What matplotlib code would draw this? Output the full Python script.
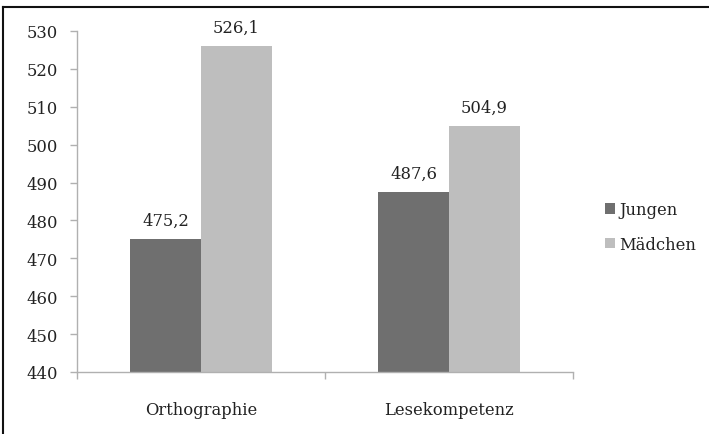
import matplotlib
matplotlib.use("Agg")
import matplotlib.pyplot as plt
from matplotlib.lines import Line2D
import numpy as np

categories = ["Orthographie", "Lesekompetenz"]
series_names = ["Jungen", "Mädchen"]
jungen = [475.2, 487.6]
maedchen = [526.1, 504.9]
colors = ["#6f6f6f", "#bebebe"]
y_ticks = [440, 450, 460, 470, 480, 490, 500, 510, 520, 530]

plt.rcParams["font.family"] = ["DejaVu Serif"]
FS = 11.8

W, H = 709, 435
fig = plt.figure(figsize=(W / 100, H / 100), dpi=100)
ax = fig.add_axes([77 / W, 1 - 373 / H, 496 / W, 341 / H])

x = np.arange(len(categories)) + 0.5
bw = 0.286
for i, (vals, name, c) in enumerate(zip([jungen, maedchen], series_names, colors)):
    pos = x + (i - 0.5) * bw
    ax.bar(pos, [v - 440 for v in vals], bottom=440, width=bw, color=c,
           label=name, linewidth=0)
    for p, v in zip(pos, vals):
        ax.annotate(f"{v:.1f}".replace(".", ","), (p, v), xytext=(0, 10),
                    textcoords="offset points", ha="center", va="baseline",
                    fontsize=FS, color="#222222")

ax.set_xlim(0, len(categories))
ax.set_ylim(440, 530)
ax.set_yticks(y_ticks)
ax.set_yticklabels([str(t) for t in y_ticks], fontsize=FS, color="#222222")
ax.set_xticks([0, 1, 2])
ax.set_xticklabels([])
ax.set_xticks(x, minor=True)
ax.set_xticklabels(categories, minor=True, fontsize=FS, color="#222222")
ax.tick_params(axis="x", which="minor", length=0, pad=21)
ax.tick_params(axis="x", which="major", length=5, color="#b0b0b0", width=1)
ax.tick_params(axis="y", length=5, color="#b0b0b0", width=1, pad=9)
for s in ["top", "right"]:
    ax.spines[s].set_visible(False)
for s in ["left", "bottom"]:
    ax.spines[s].set_color("#b0b0b0")
    ax.spines[s].set_linewidth(1)

leg = fig.legend(loc="center left", bbox_to_anchor=(590 / W, 1 - 228 / H),
                 frameon=False, fontsize=FS, handlelength=0.6, handleheight=0.6,
                 handletextpad=0.3, labelspacing=1.05)
for t in leg.get_texts():
    t.set_color("#222222")

fig.add_artist(Line2D([3 / W, 3 / W], [0, 1 - 8 / H], transform=fig.transFigure,
                      color="#111111", linewidth=1.5))
fig.add_artist(Line2D([3 / W, 1], [1 - 8 / H, 1 - 8 / H], transform=fig.transFigure,
                      color="#111111", linewidth=1.5))

fig.savefig("out.png", dpi=100)
